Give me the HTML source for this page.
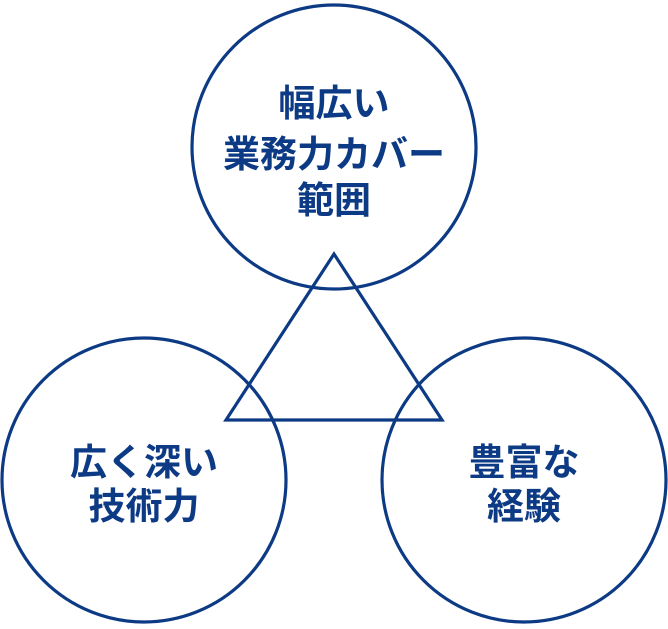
<!DOCTYPE html>
<html><head><meta charset="utf-8"><style>
html,body{margin:0;padding:0;background:#fff;}
svg text{font-family:"Liberation Sans","Noto Sans CJK JP",sans-serif;font-weight:bold;font-size:37px;fill:#0d3a84;text-anchor:middle;}
</style></head><body>
<svg width="668" height="624" viewBox="0 0 668 624" xmlns="http://www.w3.org/2000/svg">
<g fill="none" stroke="#0d3a84" stroke-width="3.2">
<circle cx="334" cy="147" r="142"/>
<circle cx="144" cy="480" r="142"/>
<circle cx="524" cy="480" r="142"/>
<polygon points="334,254 226,420 442,420"/>
</g>
<text x="334" y="116">幅広い</text>
<text x="334" y="167">業務力カバー</text>
<text x="334" y="213">範囲</text>
<text x="144" y="475">広く深い</text>
<text x="144" y="519">技術力</text>
<text x="524" y="475">豊富な</text>
<text x="524" y="519">経験</text>
</svg>
</body></html>
